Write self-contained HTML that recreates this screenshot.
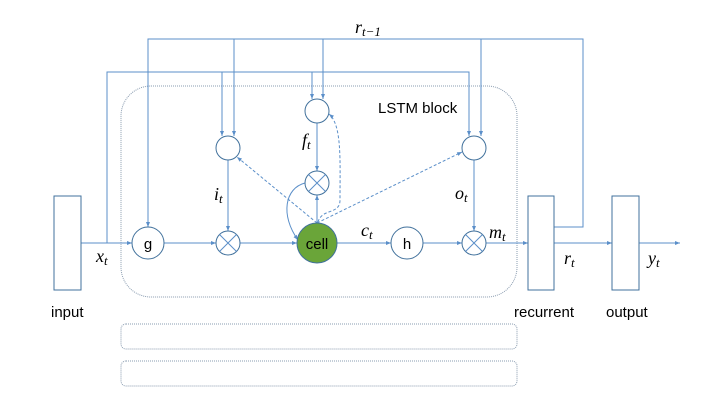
<!DOCTYPE html>
<html><head><meta charset="utf-8"><style>
html,body{margin:0;padding:0;background:#fff;}
svg{display:block;}
.l{stroke:#5b8fc9;stroke-width:1;fill:none;}
.d{stroke:#5b8fc9;stroke-width:1;fill:none;stroke-dasharray:3,2;}
.c{stroke:#41719c;stroke-width:1;fill:#fff;}
.m{font-family:"Liberation Serif",serif;font-style:italic;font-size:18px;fill:#000;}
.s{font-family:"Liberation Serif",serif;font-style:italic;font-size:13px;fill:#000;}
.t{font-family:"Liberation Sans",sans-serif;font-size:15px;fill:#000;}
</style></head><body>
<svg width="720" height="405" viewBox="0 0 720 405" xmlns="http://www.w3.org/2000/svg">
<defs>
<marker id="a" viewBox="0 0 10 10" refX="10" refY="5" markerWidth="5" markerHeight="5" orient="auto"><path d="M0,1 L10,5 L0,9 z" fill="#5b8fc9"/></marker>
</defs>
<rect x="121" y="86" width="396" height="211" rx="30" fill="none" stroke="#8a9cb0" stroke-width="1" stroke-dasharray="1,1"/>
<rect x="121" y="324" width="396" height="25" rx="5" fill="none" stroke="#8a9cb0" stroke-width="1" stroke-dasharray="1,1"/>
<rect x="121" y="361" width="396" height="25" rx="5" fill="none" stroke="#8a9cb0" stroke-width="1" stroke-dasharray="1,1"/>
<path class="l" d="M554,227 H583 V39 H148 V227" marker-end="url(#a)"/>
<path class="l" d="M234,39 V136" marker-end="url(#a)"/>
<path class="l" d="M323,39 V99" marker-end="url(#a)"/>
<path class="l" d="M481,39 V136" marker-end="url(#a)"/>
<path class="l" d="M107,243 V72 H469 V136" marker-end="url(#a)"/>
<path class="l" d="M222,72 V136" marker-end="url(#a)"/>
<path class="l" d="M312,72 V99" marker-end="url(#a)"/>
<path class="l" d="M81,243 H132" marker-end="url(#a)"/>
<path class="l" d="M164,243 H216" marker-end="url(#a)"/>
<path class="l" d="M240,243 H297" marker-end="url(#a)"/>
<path class="l" d="M337,243 H391" marker-end="url(#a)"/>
<path class="l" d="M423,243 H462" marker-end="url(#a)"/>
<path class="l" d="M486,243 H528" marker-end="url(#a)"/>
<path class="l" d="M554,243 H612" marker-end="url(#a)"/>
<path class="l" d="M639,243 H680" marker-end="url(#a)"/>
<path class="l" d="M228,160 V231" marker-end="url(#a)"/>
<path class="l" d="M317,123 V171" marker-end="url(#a)"/>
<path class="l" d="M474,160 V231" marker-end="url(#a)"/>
<path class="l" d="M317,223 V195" marker-end="url(#a)"/>
<path class="l" d="M305,183 C285,188 280,215 298,240" marker-end="url(#a)"/>
<path class="d" d="M317,223 L237,157" marker-end="url(#a)"/>
<path class="d" d="M317,223 L462,152" marker-end="url(#a)"/>
<path class="d" d="M318,222 C322,208 340,215 340,200 C340,160 342,125 329,114" marker-end="url(#a)"/>
<rect x="54" y="196" width="27" height="94" fill="#fff" stroke="#41719c"/>
<rect x="528" y="196" width="26" height="94" fill="#fff" stroke="#41719c"/>
<rect x="612" y="196" width="27" height="94" fill="#fff" stroke="#41719c"/>
<circle class="c" cx="148" cy="243" r="16"/>
<circle class="c" cx="228" cy="148" r="12"/>
<circle class="c" cx="317" cy="111" r="12"/>
<circle class="c" cx="474" cy="148" r="12"/>
<circle class="c" cx="317" cy="183" r="12"/>
<circle class="c" cx="228" cy="243" r="12"/>
<circle class="c" cx="474" cy="243" r="12"/>
<circle class="c" cx="407" cy="243" r="16"/>
<circle cx="317" cy="243" r="20" fill="#6aa539" stroke="#41719c"/>
<g stroke="#5b8fc9" stroke-width="1">
<path d="M308.5,174.5 L325.5,191.5 M325.5,174.5 L308.5,191.5"/>
<path d="M219.5,234.5 L236.5,251.5 M236.5,234.5 L219.5,251.5"/>
<path d="M465.5,234.5 L482.5,251.5 M482.5,234.5 L465.5,251.5"/>
</g>
<text class="t" x="148" y="249" text-anchor="middle" font-size="16">g</text>
<text class="t" x="407" y="249" text-anchor="middle" font-size="16">h</text>
<text class="t" x="317" y="249" text-anchor="middle" font-size="16">cell</text>
<text class="t" x="378" y="113" font-size="16">LSTM block</text>
<text class="t" x="51" y="317" font-size="16">input</text>
<text class="t" x="514" y="317" font-size="16">recurrent</text>
<text class="t" x="606" y="317" font-size="16">output</text>
<text class="m" x="96" y="262">x<tspan class="s" dy="3">t</tspan></text>
<text class="m" x="214" y="200">i<tspan class="s" dy="3">t</tspan></text>
<text class="m" x="302" y="146">f<tspan class="s" dy="3">t</tspan></text>
<text class="m" x="361" y="236">c<tspan class="s" dy="3">t</tspan></text>
<text class="m" x="455" y="199">o<tspan class="s" dy="3">t</tspan></text>
<text class="m" x="489" y="238">m<tspan class="s" dy="3">t</tspan></text>
<text class="m" x="564" y="264">r<tspan class="s" dy="3">t</tspan></text>
<text class="m" x="648" y="264">y<tspan class="s" dy="3">t</tspan></text>
<text class="m" x="355" y="33">r<tspan class="s" dy="3">t−1</tspan></text>
</svg>
</body></html>
